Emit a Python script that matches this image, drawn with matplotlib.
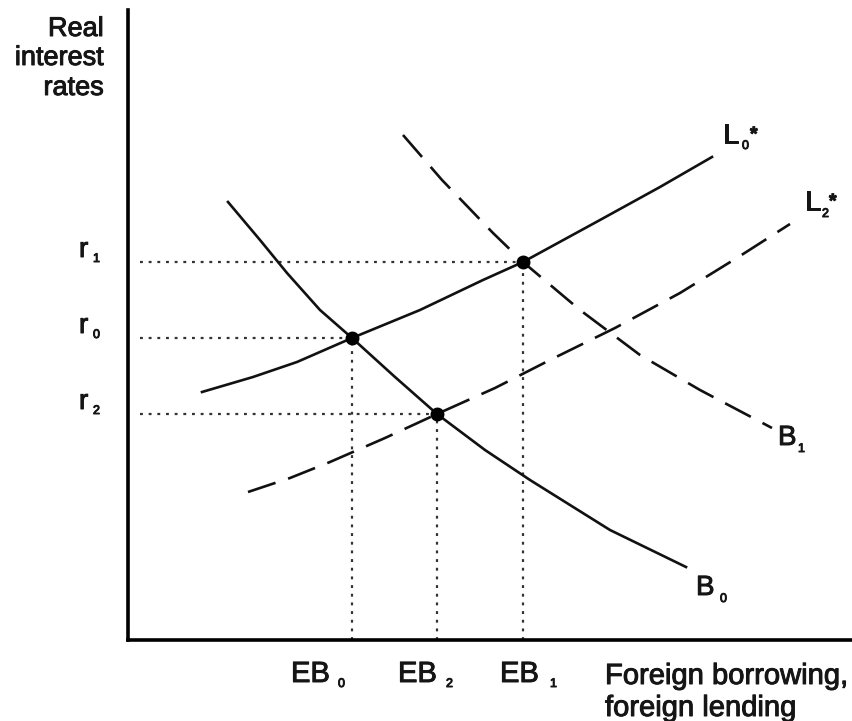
import matplotlib.pyplot as plt
import matplotlib.patheffects as pe

plt.rcParams['font.family'] = ['Liberation Sans', 'DejaVu Sans']

# curve points (x right from origin, y up from origin)
b0_x = [100, 132, 159, 192, 224, 267, 309, 357, 402, 482, 558]
b0_y = [438, 400, 367, 330, 302, 263, 226, 190, 160, 110, 73]

l0_x = [74, 125, 169, 224, 292, 355, 395, 472, 532, 584]
l0_y = [248, 263, 278, 302, 330, 360, 378, 420, 453, 483]

l2_x = [120, 162, 202, 257, 309, 367, 422, 487, 552, 612, 662]
l2_y = [148, 162, 178, 202, 226, 252, 280, 312, 347, 384, 416]

b1_x = [275, 314, 365, 395, 452, 512, 572, 644]
b1_y = [505, 460, 407, 378, 330, 285, 250, 212]

# equilibria: EB0/r0, EB1/r1, EB2/r2
eq_x = [224, 395, 309]
eq_y = [302, 378, 226]
subs = ['0', '1', '2']
ylabel_lines = ['Real', 'interest', 'rates']
xlabel_lines = ['Foreign borrowing,', 'foreign lending']

fig = plt.figure(figsize=(8.53, 7.21), dpi=100)
ax = fig.add_axes([128/853, 81/721, 725/853, 630/721])
ax.set_xlim(0, 725)
ax.set_ylim(0, 630)
for s in ['top', 'right']:
	ax.spines[s].set_visible(False)
ax.spines['left'].set_linewidth(2.6)
ax.spines['bottom'].set_linewidth(2.6)
ax.set_xticks([])
ax.set_yticks([])

# dotted guide lines
dots = dict(color='#333333', lw=1.6, ls=(0, (1.3, 2.6)))
for x, y in zip(eq_x, eq_y):
	ax.plot([12, x], [y, y], **dots)
	ax.plot([x, x], [0, y], **dots)

ax.plot(b0_x, b0_y, color='#111111', lw=1.9)
ax.plot(l0_x, l0_y, color='#111111', lw=1.9)
ax.plot(l2_x, l2_y, color='#111111', lw=1.9, ls=(0, (11, 5)))
ax.plot(b1_x, b1_y, color='#111111', lw=1.9, ls=(0, (11, 5)))
ax.plot(eq_x, eq_y, 'o', color='black', ms=9)

fs = 20
sub = 9

# r labels
for y, lab in zip(eq_y, subs):
	ax.text(-49, y + 5, 'r', fontsize=fs, va='baseline')
	ax.text(-35, y, lab, fontsize=sub, va='baseline')

# EB labels
eb_x = [163, 372, 270]
eb_sub_x = [210, 422, 318]
for x, sx, lab in zip(eb_x, eb_sub_x, subs):
	ax.text(x, -42, 'EB', fontsize=21, va='baseline')
	ax.text(sx, -47, lab, fontsize=sub, va='baseline')

ax.text(477, -44, xlabel_lines[0], fontsize=21, va='baseline')
ax.text(477, -76, xlabel_lines[1], fontsize=21, va='baseline')
for yb, line in zip([604, 575, 545], ylabel_lines):
	ax.text(-24, yb, line, fontsize=19.5, ha='right', va='baseline')

# curve names
ax.text(595, 497, 'L', fontsize=fs, va='baseline')
ax.text(614, 491, '0', fontsize=sub, va='baseline')
ax.text(622, 500, '*', fontsize=14, fontweight='bold', va='baseline')
ax.text(677, 430, 'L', fontsize=fs, va='baseline')
ax.text(694, 423, '2', fontsize=sub, va='baseline')
ax.text(701, 433, '*', fontsize=14, fontweight='bold', va='baseline')
ax.text(650, 195, 'B', fontsize=fs, va='baseline')
ax.text(670, 188, '1', fontsize=sub, va='baseline')
ax.text(568, 45, 'B', fontsize=fs, va='baseline')
ax.text(592, 38, '0', fontsize=sub, va='baseline')

for t in ax.texts:
	t.set_clip_on(False)
	t.set_color('#151515')
	t.set_path_effects([pe.withStroke(linewidth=0.7, foreground='#151515')])

fig.savefig('out.png', dpi=100)
